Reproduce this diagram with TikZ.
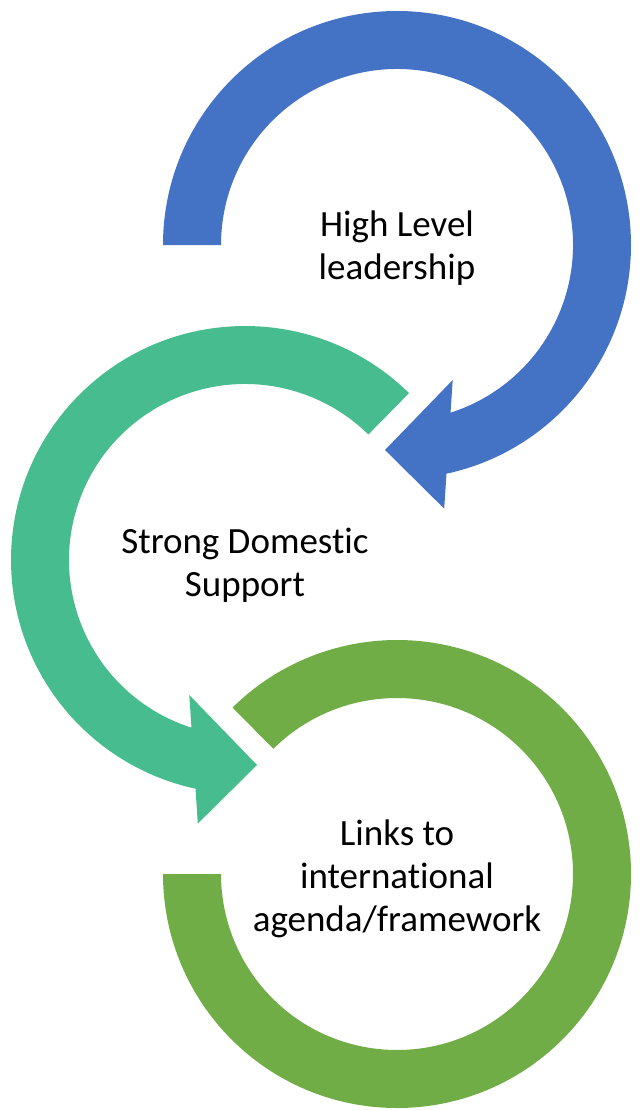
\documentclass[tikz,border=0pt]{standalone}
\usepackage{fontspec}
\setmainfont{Carlito}[Ligatures=NoCommon]
\usetikzlibrary{calc}
\definecolor{cblue}{HTML}{4472C4}
\definecolor{cteal}{HTML}{46BC8F}
\definecolor{cgreen}{HTML}{70AD47}
\begin{document}
\begin{tikzpicture}[x=0.5pt,y=-0.5pt,
  lbl/.style={align=center,font=\fontsize{18.5pt}{21.5pt}\selectfont,text=black,inner sep=0pt}]
\useasboundingbox (0,0) rectangle (641,1110);
\coordinate (B) at (397,245);
\coordinate (T) at (245,560);
\coordinate (O) at (397,874);
% blue arrow
\fill[cblue] ($(B)+(180:234)$) arc[start angle=180,end angle=437.79,radius=234]
  -- ($(B)+(47.2,263.6)$) -- ($(B)+(-12,205)$) -- ($(B)+(55.7,135)$)
  -- ($(B)+(432.29:176)$) arc[start angle=432.29,end angle=180,radius=176] -- cycle;
% teal arrow
\fill[cteal] ($(T)+(-45.5:234)$) arc[start angle=-45.5,end angle=-257.79,radius=234]
  -- ($(T)+(-47.2,263.6)$) -- ($(T)+(12,205)$) -- ($(T)+(-55.7,135)$)
  -- ($(T)+(-252.29:176)$) arc[start angle=-252.29,end angle=-45.5,radius=176] -- cycle;
% green ring segment
\fill[cgreen] ($(O)+(180:234)$) arc[start angle=180,end angle=-134.65,radius=234]
  -- ($(O)+(-134.65:176)$) arc[start angle=-134.65,end angle=180,radius=176] -- cycle;
\node[lbl] (t1) at ($(B)+(0,3)$) {High Level\\leadership};
\node[lbl] (t2) at ($(T)+(0,5)$) {Strong Domestic\\Support};
\node[lbl] (t3) at ($(O)+(0,5)$) {Links to\\international\\agenda/framework};
\end{tikzpicture}
\end{document}
